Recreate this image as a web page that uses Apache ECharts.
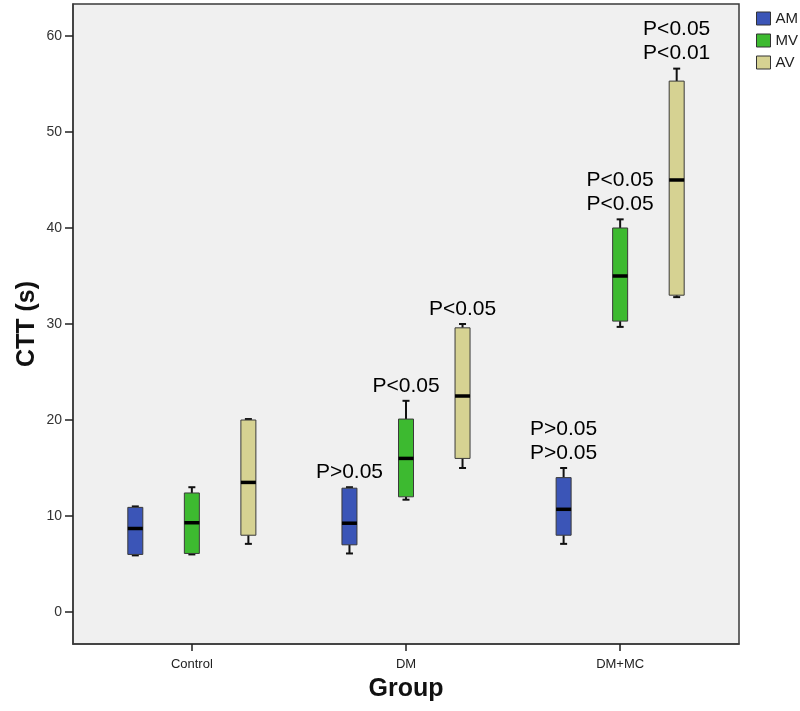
<!DOCTYPE html>
<html>
<head>
<meta charset="utf-8">
<script src="https://cdn.jsdelivr.net/npm/echarts@6/dist/echarts.min.js"></script>
<style>
  html, body { margin: 0; padding: 0; background: #ffffff; }
  #chart { width: 800px; height: 711px; }
</style>
</head>
<body>
<div id="chart"></div>
<script>
// ---- Data ----
const categories = ['Control', 'DM', 'DM+MC'];
const seriesNames = ['AM', 'MV', 'AV'];
// [min, Q1, median, Q3, max] per category
const amStats = [[5.9, 6.0, 8.7, 10.9, 11.0], [6.1, 7.0, 9.25, 12.9, 13.0], [7.1, 8.0, 10.7, 14.0, 15.0]];
const mvStats = [[6.0, 6.1, 9.3, 12.4, 13.0], [11.7, 12.0, 16.0, 20.1, 22.0], [29.7, 30.3, 35.0, 40.0, 40.9]];
const avStats = [[7.1, 8.0, 13.5, 20.0, 20.1], [15.0, 16.0, 22.5, 29.6, 30.0], [32.8, 33.0, 45.0, 55.3, 56.6]];
const amLabels = ['', 'P>0.05', 'P>0.05\nP>0.05'];
const mvLabels = ['', 'P<0.05', 'P<0.05\nP<0.05'];
const avLabels = ['', 'P<0.05', 'P<0.05\nP<0.01'];
const yTicks = [0, 10, 20, 30, 40, 50, 60];

// ---- Layout / style ----
const allStats = [amStats, mvStats, avStats];
const allLabels = [amLabels, mvLabels, avLabels];
const colors = ['#3b55b7', '#3dba30', '#d6d292'];
const offsets = [-0.264, 0, 0.264];
const FONT = "'Liberation Sans', Arial, sans-serif";

function renderBox(params, api) {
  const x = api.value(0);
  const lo = api.coord([x, api.value(1)]);
  const q1 = api.coord([x, api.value(2)]);
  const md = api.coord([x, api.value(3)]);
  const q3 = api.coord([x, api.value(4)]);
  const hi = api.coord([x, api.value(5)]);
  const bw = 15, cw = 7;
  const cx = lo[0];
  const color = api.visual('color');
  return {
    type: 'group',
    children: [
      { type: 'line', shape: { x1: cx, y1: lo[1], x2: cx, y2: q1[1] }, style: { stroke: '#111', lineWidth: 2 } },
      { type: 'line', shape: { x1: cx, y1: hi[1], x2: cx, y2: q3[1] }, style: { stroke: '#111', lineWidth: 2 } },
      { type: 'line', shape: { x1: cx - cw / 2, y1: lo[1], x2: cx + cw / 2, y2: lo[1] }, style: { stroke: '#111', lineWidth: 2 } },
      { type: 'line', shape: { x1: cx - cw / 2, y1: hi[1], x2: cx + cw / 2, y2: hi[1] }, style: { stroke: '#111', lineWidth: 2 } },
      { type: 'rect', shape: { x: cx - bw / 2, y: q3[1], width: bw, height: q1[1] - q3[1] },
        style: { fill: color, stroke: '#3a3a3a', lineWidth: 1 } },
      { type: 'line', shape: { x1: cx - bw / 2, y1: md[1], x2: cx + bw / 2, y2: md[1] }, style: { stroke: '#000', lineWidth: 3.5 } }
    ]
  };
}

const series = [];
seriesNames.forEach(function (name, si) {
  series.push({
    name: name,
    type: 'custom',
    renderItem: renderBox,
    itemStyle: { color: colors[si] },
    encode: { x: 0, y: [1, 2, 3, 4, 5] },
    data: allStats[si].map(function (s, ci) { return [ci + 1 + offsets[si]].concat(s); }),
    z: 2
  });
});
const annData = [];
allLabels.forEach(function (labs, si) {
  labs.forEach(function (t, ci) {
    if (t) annData.push({ value: [ci + 1 + offsets[si], allStats[si][ci][4]], name: t });
  });
});
series.push({
  name: 'annotations',
  type: 'scatter',
  symbolSize: 0,
  silent: true,
  itemStyle: { opacity: 1 },
  data: annData,
  label: {
    show: true, position: 'top', distance: 3, formatter: '{b}',
    fontFamily: FONT, fontSize: 21, lineHeight: 24, color: '#000', opacity: 1
  },
  z: 5
});

const chart = echarts.init(document.getElementById('chart'), null, { renderer: 'canvas' });
chart.setOption({
  animation: false,
  backgroundColor: '#ffffff',
  grid: {
    left: 73, right: 61, top: 4, bottom: 67,
    show: true, backgroundColor: '#f0f0f0', borderColor: '#3a3a3a', borderWidth: 1.5
  },
  legend: {
    data: seriesNames,
    orient: 'vertical',
    left: 751, top: 6,
    itemWidth: 14, itemHeight: 13, itemGap: 7,
    icon: 'rect',
    itemStyle: { borderColor: '#333', borderWidth: 1 },
    textStyle: { fontFamily: FONT, fontSize: 15, lineHeight: 15, color: '#222' }
  },
  xAxis: {
    type: 'value',
    min: 0.445, max: 3.555,
    splitLine: { show: false },
    axisLine: { show: true, onZero: false, lineStyle: { color: '#3a3a3a', width: 1.5 } },
    axisTick: { show: true, customValues: [1, 2, 3], length: 7, lineStyle: { color: '#222', width: 1.5 } },
    axisLabel: {
      customValues: [1, 2, 3],
      formatter: function (v) { return categories[Math.round(v) - 1]; },
      fontFamily: FONT, fontSize: 13, color: '#222', margin: 14
    },
    name: 'Group',
    nameLocation: 'middle',
    nameGap: 33,
    nameTextStyle: { fontFamily: FONT, fontSize: 25, fontWeight: 'bold', color: '#111' }
  },
  yAxis: {
    type: 'value',
    min: -3.33, max: 63.33,
    splitLine: { show: false },
    axisLine: { show: true, onZero: false, lineStyle: { color: '#3a3a3a', width: 1.5 } },
    axisTick: { show: true, customValues: yTicks, length: 8, lineStyle: { color: '#222', width: 1.5 } },
    axisLabel: {
      customValues: yTicks,
      fontFamily: FONT, fontSize: 14, color: '#333', margin: 11
    },
    name: 'CTT (s)',
    nameLocation: 'middle',
    nameGap: 33,
    nameMoveOverlap: false,
    nameRotate: 90,
    nameTextStyle: { fontFamily: FONT, fontSize: 25, fontWeight: 'bold', color: '#111' }
  },
  series: series
});
</script>
</body>
</html>
